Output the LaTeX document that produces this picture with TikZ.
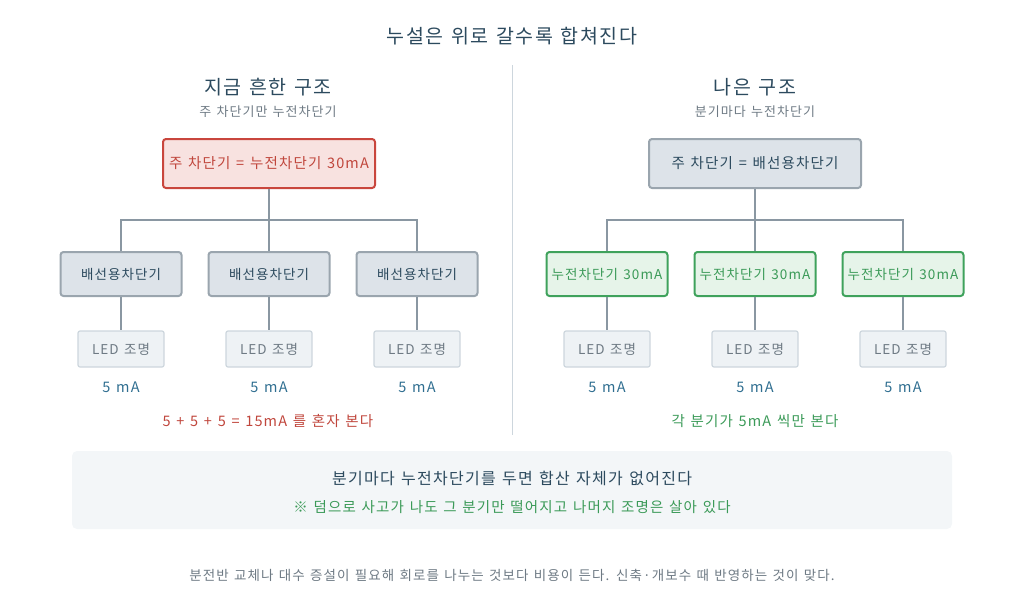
\documentclass[tikz,border=0pt]{standalone}
\usepackage{fontspec}
\setmainfont{Noto Sans CJK KR}[LetterSpace=8,WordSpace=1.3]
\begin{document}
\begin{tikzpicture}[x=1pt,y=-1pt,
  txt/.style={inner sep=0pt,anchor=center},
  wire/.style={draw=wirec,line width=2.2pt},
  top/.style={draw=gbord,fill=gfill,line width=2pt,rounded corners=3pt,minimum width=212pt,minimum height=49pt,inner sep=0pt,text=dark,font=\fontsize{14.5}{16}\selectfont},
  topr/.style={top,draw=redb,fill=redf,text=redt},
  mid/.style={draw=gbord,fill=gfill,line width=2pt,rounded corners=3pt,minimum width=121pt,minimum height=44pt,inner sep=0pt,text=dark,font=\fontsize{13.5}{15}\selectfont},
  midg/.style={mid,draw=greenb,fill=greenf,text=greent},
  led/.style={draw=ledb,fill=ledf,line width=1.2pt,rounded corners=2pt,minimum width=86pt,minimum height=36pt,text=grayt,font=\fontsize{13.5}{15}\selectfont},
  ma/.style={txt,text=blue,font=\fontsize{14.5}{16}\selectfont}]
\definecolor{dark}{HTML}{2C4A5E}
\definecolor{wirec}{HTML}{8A97A2}
\definecolor{gbord}{HTML}{9AA5AE}
\definecolor{gfill}{HTML}{DDE3E9}
\definecolor{redb}{HTML}{C9463D}
\definecolor{redf}{HTML}{F8E2E0}
\definecolor{redt}{HTML}{C0463C}
\definecolor{greenb}{HTML}{3FA25C}
\definecolor{greenf}{HTML}{E6F4E9}
\definecolor{greent}{HTML}{3B9A58}
\definecolor{ledb}{HTML}{CDD6DD}
\definecolor{ledf}{HTML}{EEF2F5}
\definecolor{grayt}{HTML}{6E7A84}
\definecolor{blue}{HTML}{2F6E90}
\useasboundingbox (0,0) rectangle (1024,589);
\node[txt,text=dark,font=\fontsize{19.5}{22}\selectfont] (title) at (512,36) {누설은 위로 갈수록 합쳐진다};
\coordinate (d1) at (512,65); \coordinate (d2) at (512,435);
\draw[draw=ledb,line width=1pt] (d1) -- (d2);
% left
\node[txt,text=dark,font=\fontsize{19.5}{22}\selectfont] (lh) at (268,87) {지금 흔한 구조};
\node[txt,text=grayt,font=\fontsize{13}{15}\selectfont] (ls) at (268,112) {주 차단기만 누전차단기};
\node[topr] (lm) at (269,163.5) {주 차단기 = 누전차단기 30mA};
\foreach \i/\x in {1/121,2/269,3/417}{
  \node[mid] (lc\i) at (\x,274) {배선용차단기};
  \node[led] (ll\i) at (\x,349) {LED 조명};
  \node[ma] (lma\i) at (\x,387) {5 mA};
  \draw[wire] (lc\i) -- (ll\i);
}
\coordinate (lj) at (269,220);
\draw[wire] (lm) -- (lj);
\draw[wire] (lc1.north) |- (lj) -| (lc3.north);
\draw[wire] (lj) -- (lc2);
\node[txt,text=redt,font=\fontsize{14.5}{16}\selectfont] (lsum) at (268,421) {5 + 5 + 5 = 15mA 를 혼자 본다};
% right
\node[txt,text=dark,font=\fontsize{19.5}{22}\selectfont] (rh) at (755,87) {나은 구조};
\node[txt,text=grayt,font=\fontsize{13}{15}\selectfont] (rs) at (755,112) {분기마다 누전차단기};
\node[top] (rm) at (755,163.5) {주 차단기 = 배선용차단기};
\foreach \i/\x in {1/607,2/755,3/903}{
  \node[midg] (rc\i) at (\x,274) {누전차단기 30mA};
  \node[led] (rl\i) at (\x,349) {LED 조명};
  \node[ma] (rma\i) at (\x,387) {5 mA};
  \draw[wire] (rc\i) -- (rl\i);
}
\coordinate (rj) at (755,220);
\draw[wire] (rm) -- (rj);
\draw[wire] (rc1.north) |- (rj) -| (rc3.north);
\draw[wire] (rj) -- (rc2);
\node[txt,text=greent,font=\fontsize{14.5}{16}\selectfont] (rsum) at (755,421) {각 분기가 5mA 씩만 본다};
% bottom panel
\node[fill=ledf!70!white,rounded corners=5pt,minimum width=880pt,minimum height=78pt] (panel) at (512,490) {};
\node[txt,text=dark,font=\fontsize{16}{18}\selectfont] (p1) at (512,478) {분기마다 누전차단기를 두면 합산 자체가 없어진다};
\node[txt,text=greent,font=\fontsize{14.5}{16}\selectfont] (p2) at (512,507) {※ 덤으로 사고가 나도 그 분기만 떨어지고 나머지 조명은 살아 있다};
\node[txt,text=grayt,font=\fontsize{13.5}{15}\selectfont] (foot) at (512,575) {분전반 교체나 대수 증설이 필요해 회로를 나누는 것보다 비용이 든다. 신축·개보수 때 반영하는 것이 맞다.};
\end{tikzpicture}
\end{document}
